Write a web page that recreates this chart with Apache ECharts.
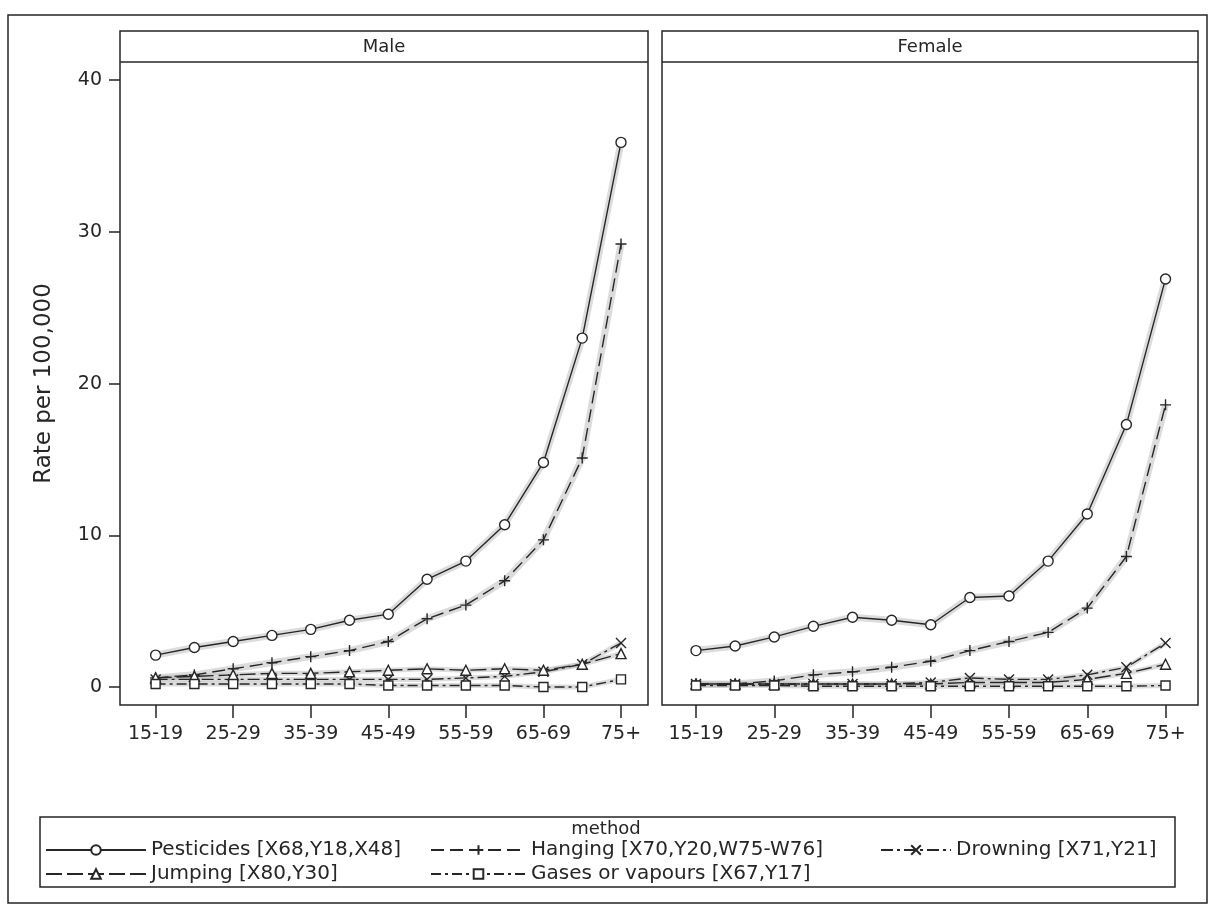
<!DOCTYPE html>
<html>
<head>
<meta charset="utf-8">
<script src="https://cdn.jsdelivr.net/npm/echarts@6/dist/echarts.min.js"></script>
<style>
  html, body { margin: 0; padding: 0; background: #fff; }
  #chart { width: 1213px; height: 910px; }
</style>
</head>
<body>
<div id="chart"></div>
<script>
// age groups on the x axis
const ageGroups = ['15-19', '20-24', '25-29', '30-34', '35-39', '40-44', '45-49',
  '50-54', '55-59', '60-64', '65-69', '70-74', '75+'];
const yTicks = [0, 10, 20, 30, 40];

// rate per 100,000
const malePesticides = [2.1, 2.6, 3.0, 3.4, 3.8, 4.4, 4.8, 7.1, 8.3, 10.7, 14.8, 23.0, 35.9];
const maleHanging    = [0.6, 0.8, 1.2, 1.6, 2.0, 2.4, 3.0, 4.5, 5.4, 7.0, 9.7, 15.1, 29.2];
const maleDrowning   = [0.5, 0.5, 0.5, 0.5, 0.5, 0.5, 0.5, 0.5, 0.6, 0.7, 1.0, 1.5, 2.9];
const maleJumping    = [0.6, 0.7, 0.8, 0.9, 0.9, 1.0, 1.1, 1.2, 1.1, 1.2, 1.1, 1.5, 2.2];
const maleGases      = [0.2, 0.2, 0.2, 0.2, 0.2, 0.2, 0.1, 0.1, 0.1, 0.1, 0.0, 0.0, 0.5];

const femalePesticides = [2.4, 2.7, 3.3, 4.0, 4.6, 4.4, 4.1, 5.9, 6.0, 8.3, 11.4, 17.3, 26.9];
const femaleHanging    = [0.2, 0.2, 0.4, 0.8, 1.0, 1.3, 1.7, 2.4, 3.0, 3.6, 5.2, 8.6, 18.6];
const femaleDrowning   = [0.2, 0.2, 0.2, 0.2, 0.2, 0.2, 0.3, 0.6, 0.5, 0.5, 0.8, 1.3, 2.9];
const femaleJumping    = [0.2, 0.2, 0.2, 0.2, 0.2, 0.2, 0.2, 0.3, 0.3, 0.3, 0.5, 0.9, 1.5];
const femaleGases      = [0.1, 0.1, 0.1, 0.05, 0.05, 0.05, 0.05, 0.05, 0.05, 0.05, 0.05, 0.05, 0.1];

const methodNames = ['Pesticides [X68,Y18,X48]', 'Hanging [X70,Y20,W75-W76]',
  'Drowning [X71,Y21]', 'Jumping [X80,Y30]', 'Gases or vapours [X67,Y17]'];

const ink = '#262626';
const font = 'DejaVu Sans';

const methodStyles = [
  { symbol: 'circle', dash: 'solid', size: 10 },
  { symbol: 'path://M5,0L5,10M0,5L10,5', dash: [13, 6], size: 11 },
  { symbol: 'path://M0,0L10,10M10,0L0,10', dash: [12, 4, 3, 4], size: 10 },
  { symbol: 'triangle', dash: [16, 5], size: 10 },
  { symbol: 'rect', dash: [10, 4, 3, 4], size: 9 }
];

const maleData = [malePesticides, maleHanging, maleDrowning, maleJumping, maleGases];
const femaleData = [femalePesticides, femaleHanging, femaleDrowning, femaleJumping, femaleGases];

// every other age group gets a tick + label
const xTickIdx = ageGroups.map((a, k) => k).filter(k => k % 2 === 0);

const chart = echarts.init(document.getElementById('chart'));

const series = [];
[maleData, femaleData].forEach((panel, p) => {
  // light grey band under each line
  panel.forEach((vals, i) => {
    series.push({
      name: 'band-' + p + '-' + i,
      type: 'line',
      xAxisIndex: p,
      yAxisIndex: p,
      data: vals.map((v, k) => [k, v]),
      symbol: 'none',
      silent: true,
      z: 1,
      lineStyle: { color: 'rgba(185,185,185,0.5)', width: i < 2 ? 7 : 5 }
    });
  });
  panel.forEach((vals, i) => {
    const st = methodStyles[i];
    series.push({
      name: methodNames[i],
      type: 'line',
      xAxisIndex: p,
      yAxisIndex: p,
      data: vals.map((v, k) => [k, v]),
      symbol: st.symbol,
      symbolSize: st.size,
      z: 3,
      lineStyle: { color: ink, width: 1.4, type: st.dash },
      itemStyle: { color: '#fff', borderColor: ink, borderWidth: 1.4 }
    });
  });
});

const legendPos = [
  { left: 45, top: 840, itemWidth: 100 },
  { left: 430, top: 840, itemWidth: 95 },
  { left: 880, top: 840, itemWidth: 70 },
  { left: 45, top: 864, itemWidth: 100 },
  { left: 430, top: 864, itemWidth: 95 }
];

const legends = methodNames.map((nm, i) => ({
  data: [nm],
  left: legendPos[i].left,
  top: legendPos[i].top,
  itemWidth: legendPos[i].itemWidth,
  itemHeight: 12,
  itemGap: 0,
  padding: 0,
  selectedMode: false,
  textStyle: { fontFamily: font, fontSize: 20, color: ink }
}));

function xAxisFor(gridIndex, min, max) {
  return {
    gridIndex: gridIndex,
    type: 'value',
    min: min,
    max: max,
    axisLine: { show: false, onZero: false },
    axisTick: { show: true, length: 13, customValues: xTickIdx, lineStyle: { color: ink, width: 1.5 } },
    axisLabel: {
      customValues: xTickIdx,
      formatter: v => ageGroups[Math.round(v)],
      margin: 20, fontFamily: font, fontSize: 19, color: ink
    },
    splitLine: { show: false }
  };
}

const option = {
  backgroundColor: '#fff',
  animation: false,
  legend: legends,
  grid: [
    { left: 120, top: 62, width: 528, height: 643 },
    { left: 662, top: 62, width: 536, height: 643 }
  ],
  xAxis: [
    xAxisFor(0, -0.918, 12.696),
    xAxisFor(1, -0.869, 12.83)
  ],
  yAxis: [
    {
      gridIndex: 0,
      type: 'value',
      min: -1.187,
      max: 41.2,
      name: 'Rate per 100,000',
      nameLocation: 'middle',
      nameGap: 64,
      nameTextStyle: { fontFamily: font, fontSize: 23, color: ink },
      axisLine: { show: false, onZero: false },
      axisTick: { show: true, length: 11, customValues: yTicks, lineStyle: { color: ink, width: 1.5 } },
      axisLabel: { customValues: yTicks, margin: 18, fontFamily: font, fontSize: 19, color: ink },
      splitLine: { show: false }
    },
    {
      gridIndex: 1,
      type: 'value',
      min: -1.187,
      max: 41.2,
      show: false,
      axisLine: { onZero: false },
      splitLine: { show: false }
    }
  ],
  series: series,
  graphic: [
    // outer frame
    { type: 'rect', shape: { x: 8, y: 15, width: 1199, height: 888 },
      style: { fill: 'none', stroke: ink, lineWidth: 1.5 }, silent: true, z: 0 },
    // panels
    { type: 'rect', shape: { x: 120, y: 31, width: 528, height: 674 },
      style: { fill: 'none', stroke: ink, lineWidth: 1.5 }, silent: true, z: 5 },
    { type: 'rect', shape: { x: 662, y: 31, width: 536, height: 674 },
      style: { fill: 'none', stroke: ink, lineWidth: 1.5 }, silent: true, z: 5 },
    { type: 'line', shape: { x1: 120, y1: 62, x2: 648, y2: 62 },
      style: { stroke: ink, lineWidth: 1.5 }, silent: true, z: 5 },
    { type: 'line', shape: { x1: 662, y1: 62, x2: 1198, y2: 62 },
      style: { stroke: ink, lineWidth: 1.5 }, silent: true, z: 5 },
    { type: 'text', x: 384, y: 47, silent: true, z: 5,
      style: { text: 'Male', fontFamily: font, fontSize: 18, fill: ink, align: 'center', verticalAlign: 'middle' } },
    { type: 'text', x: 930, y: 47, silent: true, z: 5,
      style: { text: 'Female', fontFamily: font, fontSize: 18, fill: ink, align: 'center', verticalAlign: 'middle' } },
    // legend box
    { type: 'rect', shape: { x: 40, y: 817, width: 1135, height: 70 },
      style: { fill: 'none', stroke: ink, lineWidth: 1.5 }, silent: true, z: 0 },
    { type: 'text', x: 606, y: 829, silent: true,
      style: { text: 'method', fontFamily: font, fontSize: 18, fill: ink, align: 'center', verticalAlign: 'middle' } }
  ]
};

chart.setOption(option);
</script>
</body>
</html>
